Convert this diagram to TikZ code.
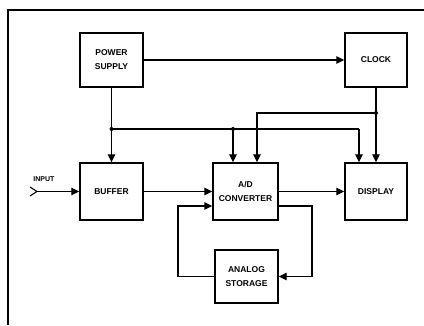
\documentclass[tikz,border=0pt]{standalone}
\usepackage{fontspec}
\setmainfont{Liberation Sans}
\usetikzlibrary{arrows.meta}
\tikzset{
    bloque/.style={draw, line width=1.4pt, inner sep=0pt, align=center,
        font=\fontsize{8.5}{14}\selectfont\bfseries},
    senal/.style={line width=1.1pt, -{Triangle[length=8pt,width=7.5pt]}},
    linea/.style={line width=1.1pt},
    nudo/.style={circle, fill, inner sep=0pt, minimum size=4pt},
}

\begin{document}
\begin{tikzpicture}[x=1pt, y=1pt]
\useasboundingbox (0,0) rectangle (424,325);
% frame
\draw[line width=1.3pt] (8,0) -- (8,315) -- (424,315);
% blocks
\node[bloque, minimum width=63, minimum height=54] (fuente) at (111.5,265) {POWER\\SUPPLY};
\node[bloque, minimum width=62, minimum height=54] (reloj) at (376,265) {CLOCK};
\node[bloque, minimum width=63, minimum height=57] (buffer) at (111.5,133.5) {BUFFER};
\node[bloque, minimum width=65, minimum height=57] (conv) at (245.5,133.5) {A/D\\CONVERTER};
\node[bloque, minimum width=62, minimum height=57] (pantalla) at (376,133.5) {DISPLAY};
\node[bloque, minimum width=63, minimum height=53] (memoria) at (246.5,48.5) {ANALOG\\STORAGE};
% input
\node[font=\fontsize{7}{8}\selectfont\bfseries] (etiq) at (44,146) {INPUT};
\coordinate (entrada) at (37,133.5);
\draw[linea] (30,138) -- (entrada) -- (30,129);
\draw[senal] (entrada) -- (buffer);
% supply bus
\coordinate (j1) at (fuente.south |- 0,196);
\coordinate (j2) at (233,196);
\coordinate (j3) at (359,196);
\draw[senal] (fuente) -- (j1) -- (j1 |- buffer.north);
\draw[linea] (j1) -- (j3);
\draw[senal] (j2) -- (j2 |- conv.north);
\draw[senal] (j3) -- (j3 |- pantalla.north);
\node[nudo] at (j1) {};
\node[nudo] at (j2) {};
% clock
\draw[senal] (fuente) -- (reloj);
\coordinate (k1) at (reloj.south |- 0,212);
\coordinate (k2) at (257,212);
\draw[senal] (reloj) -- (k1) -- (k1 |- pantalla.north);
\draw[senal] (k1) -- (k2) -- (k2 |- conv.north);
\node[nudo] at (k1) {};
% signal path
\draw[senal] (buffer) -- (conv);
\draw[senal] (conv) -- (pantalla);
% storage loop
\coordinate (s1) at (312,119);
\coordinate (s2) at (178,119);
\draw[senal] (conv.east |- s1) -- (s1) -- (s1 |- memoria.east) -- (memoria.east);
\draw[senal] (memoria.west) -- (s2 |- memoria.west) -- (s2) -- (conv.west |- s2);
\end{tikzpicture}
\end{document}
